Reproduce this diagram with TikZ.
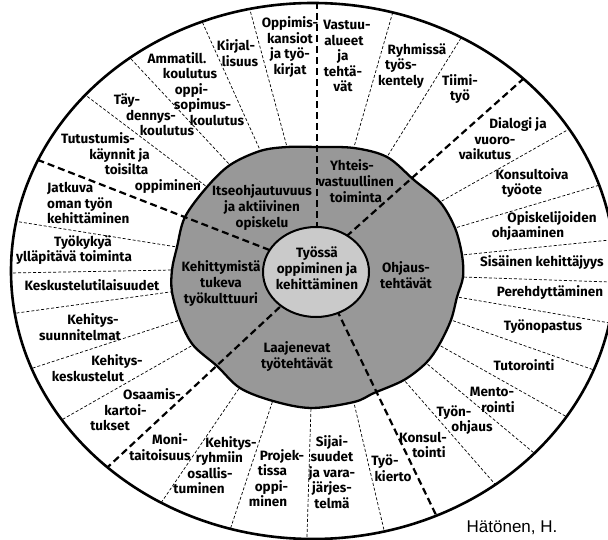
\documentclass[tikz,border=0pt]{standalone}
\usepackage{fontspec}
\setmainfont{Fira Sans}
\newfontfamily\sigfont{Liberation Sans}
\newcommand\lbl{\bfseries\fontsize{13.5}{15.5}\selectfont}
\newcommand\sft[2]{\hspace*{#1pt}#2\hspace*{-#1pt}}
\definecolor{ringgray}{RGB}{152,152,152}
\definecolor{coregray}{RGB}{202,202,202}
\tikzset{
  lab/.style={font=\lbl, align=center, inner sep=0pt, text=black},
  seclab/.style={font=\bfseries\fontsize{13.5}{16}\selectfont, align=center, inner sep=0pt, text=black},
  thindash/.style={line width=0.7pt, dash pattern=on 3pt off 2pt, shorten <=-8pt, shorten >=-14pt},
  thickdash/.style={line width=2.2pt, dash pattern=on 7pt off 4pt, shorten >=-14pt},
}
\begin{document}
\begin{tikzpicture}[x=1pt,y=-1pt]
\useasboundingbox (0,0) rectangle (608,540);
\fill[white] (0,0) rectangle (608,540);
% outer ring
\fill[white] (313,271) ellipse [x radius=302pt, y radius=268pt];
\begin{scope}
\clip (313,271) ellipse [x radius=302pt, y radius=268pt];
\foreach \i/\ax/\ay/\bx/\by in {
 1/207/187/88/97, 2/230/165/132/60, 3/260/150/200/17, 4/287/147/250/10,
 5/354/147/392/15, 6/387/157/461/38, 7/440/202/571/128, 8/455/228/610/182,
 9/462/255/610/240, 10/462/277/610/282, 11/457/297/610/323, 12/451/320/594/370,
 13/439/345/567/417, 14/426/363/534/453, 15/404/380/494/483, 16/354/403/384/530,
 17/311/407/307/537, 18/273/400/230/530, 19/240/387/163/500, 20/193/345/65/418,
 21/180/320/33/368, 22/170/292/17/313, 23/173/270/10/273, 24/177/247/20/222}{
  \coordinate (ta\i) at (\ax,\ay);
  \coordinate (tb\i) at (\bx,\by);
  \draw[thindash] (ta\i) -- (tb\i);
}
\end{scope}
% middle ring
\draw[line width=2.3pt, fill=ringgray] plot[smooth cycle, tension=0.55] coordinates {
 (317,147) (354,148) (387,157) (414,180) (440,202) (455,228) (462,255) (463,277)
 (457,297) (451,320) (439,345) (426,363) (404,380) (374,393) (354,402) (311,408)
 (273,401) (240,388) (217,366) (193,345) (180,320) (172,292) (172,270) (177,247)
 (185,217) (207,187) (230,165) (260,151) (287,147)};
% main sector boundaries
\begin{scope}
\clip (313,271) ellipse [x radius=302pt, y radius=268pt];
\foreach \i/\ax/\ay/\bx/\by in {
 1/317/262/317/3, 2/330/251/522/80, 3/332/300/437/517, 4/296/292/110/465, 5/290/258/38/160}{
  \coordinate (ka\i) at (\ax,\ay);
  \coordinate (kb\i) at (\bx,\by);
  \draw[thickdash] (ka\i) -- (kb\i);
}
\end{scope}
% core
\draw[line width=2pt, fill=coregray] (316,272) ellipse [x radius=53pt, y radius=45pt];
% outer border
\draw[line width=2.6pt] (313,271) ellipse [x radius=302pt, y radius=268pt];
% outer labels
\node[lab] (oppimis) at (290,47) {Oppimis-\\kansiot\\ja työ-\\kirjat};
\node[lab] (vastuu) at (343,56) {\sft{4}{Vastuu-}\\\sft{2}{alueet}\\ja\\tehtä-\\vät};
\node[lab] (kirjal) at (238,53) {\sft{-2}{Kirjal-}\\\sft{2}{lisuus}};
\node[lab] (ammatill) at (195,89) {\sft{-18}{Ammatill.}\\\sft{-10}{koulutus}\\\sft{-7}{oppi-}\\\sft{15}{sopimus-}\\\sft{22}{koulutus}};
\node[lab] (tay) at (149,115) {\sft{-22}{Täy-}\\\sft{4}{dennys-}\\\sft{18}{koulutus}};
\node[lab] (tutustumis) at (126,163) {\sft{-28}{Tutustumis-}\\\sft{-13}{käynnit ja}\\\sft{1}{toisilta}\\\sft{42}{oppiminen}};
\node[lab, align=left, anchor=west] (jatkuva) at (47,203) {Jatkuva\\oman työn\\kehittäminen};
\node[lab] (tyokykya) at (78,250) {\sft{5}{Työkykyä}\\\sft{-4}{ylläpitävä toiminta}};
\node[lab] (keskustelutil) at (92,285) {Keskustelutilaisuudet};
\node[lab] (kehsuun) at (86,327) {\sft{7}{Kehitys-}\\\sft{-6}{suunnitelmat}};
\node[lab] (kehkesk) at (102,368) {\sft{15}{Kehitys-}\\\sft{-14}{keskustelut}};
\node[lab] (osaamis) at (128,410) {\sft{24}{Osaamis-}\\\sft{-5}{kartoi-}\\\sft{-18}{tukset}};
\node[lab] (moni) at (165,447) {\sft{5}{Moni-}\\\sft{-5}{taitoisuus}};
\node[lab] (kehryhm) at (215,465) {\sft{16}{Kehitys-}\\\sft{9}{ryhmiin}\\\sft{-10}{osallis-}\\\sft{-16}{tuminen}};
\node[lab] (projek) at (273,478) {\sft{9}{Projek-}\\\sft{-1}{tissa}\\\sft{-3}{oppi-}\\\sft{-5}{minen}};
\node[lab] (sijai) at (332,472) {Sijai-\\suudet\\ja vara-\\järjes-\\telmä};
\node[lab] (tyokierto) at (389,468) {\sft{-4}{Työ-}\\\sft{4}{kierto}};
\node[lab] (konsul) at (426,445) {\sft{-3}{Konsul-}\\\sft{3}{tointi}};
\node[lab] (tyonohj) at (463,420) {\sft{-9}{Työn-}\\\sft{9}{ohjaus}};
\node[lab] (mento) at (495,400) {\sft{-3}{Mento-}\\\sft{3}{rointi}};
\node[lab] (tutor) at (524,365) {Tutorointi};
\node[lab] (opastus) at (543,327) {Työnopastus};
\node[lab] (pereh) at (550,293) {Perehdyttäminen};
\node[lab, anchor=west] (sisainen) at (480,263) {Sisäinen kehittäjyys};
\node[lab] (opisk) at (540,226) {\sft{12}{Opiskelijoiden}\\\sft{-12}{ohjaaminen}};
\node[lab] (konsultoiva) at (527,183) {\sft{5}{Konsultoiva}\\\sft{-5}{työote}};
\node[lab] (dialogi) at (498,139) {\sft{20}{Dialogi ja}\\\sft{-6}{vuoro-}\\\sft{-13}{vaikutus}};
\node[lab] (tiimi) at (460,89) {Tiimi-\\työ};
\node[lab] (ryhmissa) at (405,66) {\sft{12}{Ryhmissä}\\\sft{-8}{työs-}\\\sft{-4}{kentely}};
% sector labels
\node[seclab] (itse) at (262,208) {Itseohjautuvuus\\ja aktiivinen\\opiskelu};
\node[seclab] (yhteis) at (356,181) {\sft{-4}{Yhteis-}\\vastuullinen\\toiminta};
\node[seclab] (ohjaus) at (406,275) {Ohjaus-\\tehtävät};
\node[seclab] (laaj) at (297,357) {Laajenevat\\työtehtävät};
\node[seclab] (kehtyo) at (221,284) {Kehittymistä\\tukeva\\työkulttuuri};
\node[seclab] (core) at (317,268) {Työssä\\oppiminen ja\\kehittäminen};
% author
\node[font=\sigfont\fontsize{17}{20}\selectfont, inner sep=0pt] (author) at (512,528) {Hätönen, H.};
\end{tikzpicture}
\end{document}
